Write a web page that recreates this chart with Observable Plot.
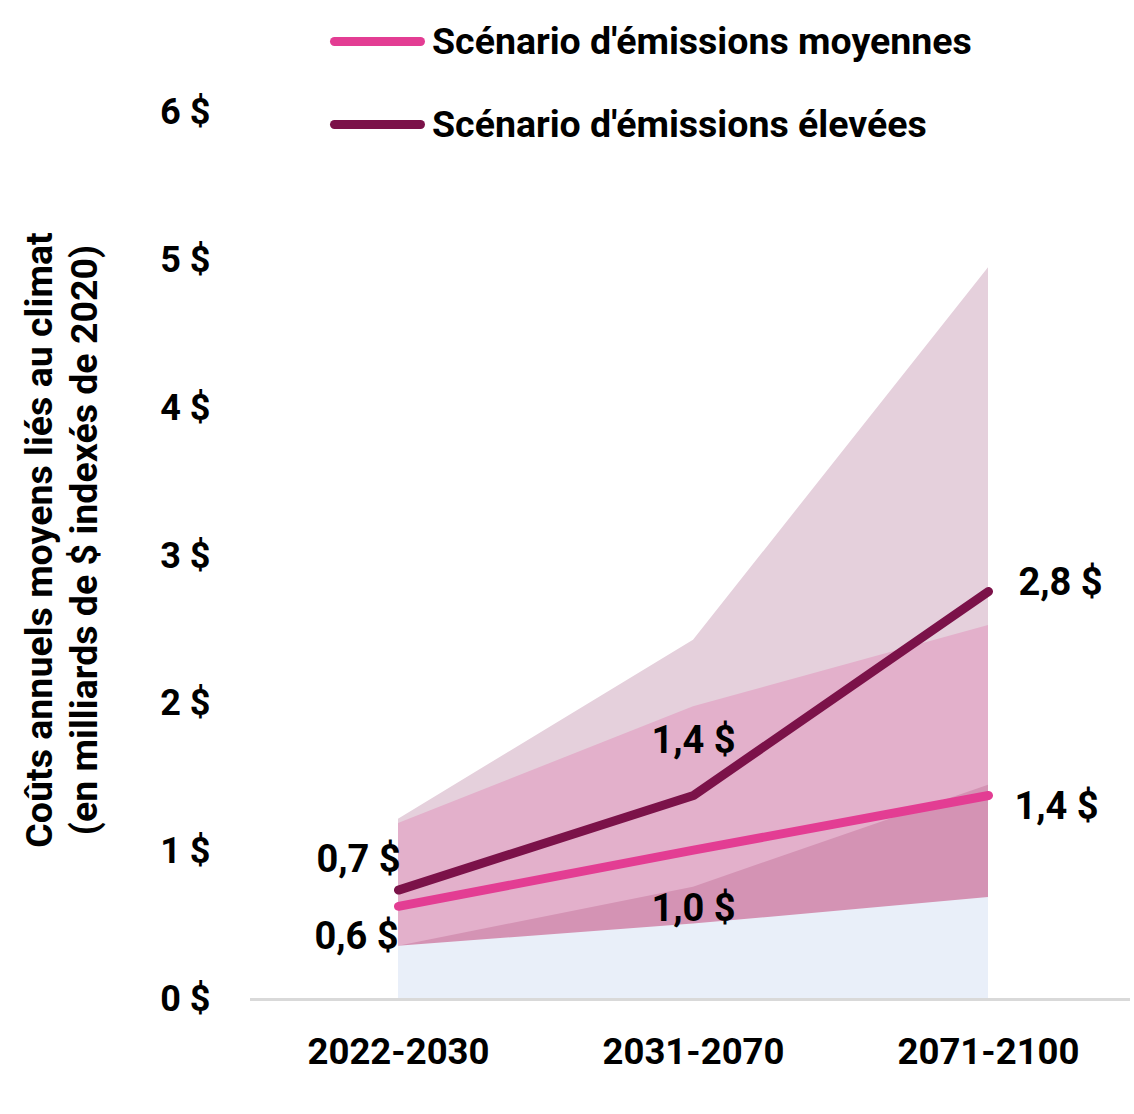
<!DOCTYPE html>
<html><head><meta charset="utf-8">
<script src="https://cdn.jsdelivr.net/npm/d3@7"></script>
<script src="https://cdn.jsdelivr.net/npm/@observablehq/plot@0.6"></script>
<style>
body{margin:0;background:#fff;}
#wrap{position:relative;width:1134px;height:1114px;overflow:hidden;}
.cond{font-family:Roboto,"Liberation Sans",sans-serif;font-weight:bold;color:#000;}
#legend{position:absolute;left:330px;top:0;}
.li{position:absolute;display:flex;align-items:center;white-space:nowrap;font-size:37.5px;}
.sw{width:95px;height:9px;border-radius:5px;margin-right:7px;flex:none;}
#ytitle{position:absolute;left:62px;top:540px;transform:translate(-50%,-50%) rotate(-90deg);text-align:center;font-size:37.5px;line-height:45px;white-space:nowrap;}
svg g[aria-label="y-axis tick label"]{font-family:Roboto,"Liberation Sans",sans-serif;font-weight:bold;font-size:36px;}
svg g[aria-label="x-axis tick label"]{font-family:Roboto,"Liberation Sans",sans-serif;font-weight:bold;font-size:36.5px;}
</style></head><body><div id="wrap"></div>
<script>
// ---- data ----
const periods = ["2022-2030", "2031-2070", "2071-2100"];
const moyennes = [0.63, 1.01, 1.38];
const elevees = [0.74, 1.38, 2.76];
const moyBas = [0.36, 0.51, 0.69];
const moyHaut = [1.19, 1.98, 2.53];
const eleBas = [0.36, 0.76, 1.45];
const eleHaut = [1.22, 2.43, 4.95];
const labelsMoy = ["0,6 $", "1,0 $", "1,4 $"];
const labelsEle = ["0,7 $", "1,4 $", "2,8 $"];
const yTicks = [0, 1, 2, 3, 4, 5, 6];
const seriesNames = ["Scénario d'émissions moyennes", "Scénario d'émissions élevées"];
const yTitle = ["Coûts annuels moyens liés au climat", "(en milliards de $ indexés de 2020)"];

// ---- layout / styling ----
const cMoy = "#e33d93", cEle = "#7b1249";
const rows = periods.map((p, i) => ({
  period: p, moy: moyennes[i], ele: elevees[i],
  moyBas: moyBas[i], moyHaut: moyHaut[i], eleBas: eleBas[i], eleHaut: eleHaut[i],
  lMoy: labelsMoy[i], lEle: labelsEle[i]
}));
const offMoy = [[-42, 30], [0, 59], [68, 11]];
const offEle = [[-40, -30], [0, -55], [72, -9]];
const labelFont = {fontSize: 38, fontWeight: "bold", fontFamily: 'Roboto,"Liberation Sans",sans-serif', fill: "#000"};
const labelMarks = [];
rows.forEach((r, i) => {
  labelMarks.push(Plot.text([r], {x: "period", y: "moy", text: "lMoy", dx: offMoy[i][0], dy: offMoy[i][1], ...labelFont}));
  labelMarks.push(Plot.text([r], {x: "period", y: "ele", text: "lEle", dx: offEle[i][0], dy: offEle[i][1], ...labelFont}));
});

const chart = Plot.plot({
  width: 1134, height: 1114,
  marginLeft: 250, marginRight: 4, marginTop: 20, marginBottom: 115,
  x: {type: "point", domain: periods, range: [397, 988], padding: 0, label: null},
  y: {domain: [0, 6], range: [999, 112], label: null},
  marks: [
    Plot.areaY(rows, {x: "period", y1: 0, y2: "eleHaut", fill: "#e5d0dc"}),
    Plot.areaY(rows, {x: "period", y1: 0, y2: "moyHaut", fill: "#e3b0cb"}),
    Plot.areaY(rows, {x: "period", y1: 0, y2: "eleBas", fill: "#d493b4"}),
    Plot.areaY(rows, {x: "period", y1: 0, y2: "moyBas", fill: "#e9eff9"}),
    Plot.ruleY([0], {stroke: "#d9d9d9", strokeWidth: 3}),
    Plot.line(rows, {x: "period", y: "moy", stroke: cMoy, strokeWidth: 9, strokeLinecap: "round", strokeLinejoin: "round"}),
    Plot.line(rows, {x: "period", y: "ele", stroke: cEle, strokeWidth: 9, strokeLinecap: "round", strokeLinejoin: "round"}),
    ...labelMarks,
    Plot.axisY({ticks: yTicks, tickFormat: d => d + " $", tickSize: 0, tickPadding: 40, label: null}),
    Plot.axisX({tickSize: 0, tickPadding: 39, label: null})
  ]
});
const wrap = document.getElementById("wrap");
wrap.appendChild(chart);

// legend
const legend = document.createElement("div");
legend.id = "legend"; legend.className = "cond";
[[cMoy, 41], [cEle, 124]].forEach(([c, y], i) => {
  const li = document.createElement("div");
  li.className = "li"; li.style.top = (y - 22) + "px"; li.style.height = "44px";
  const sw = document.createElement("div"); sw.className = "sw"; sw.style.background = c;
  const t = document.createElement("span"); t.textContent = seriesNames[i];
  li.appendChild(sw); li.appendChild(t); legend.appendChild(li);
});
wrap.appendChild(legend);

const yt = document.createElement("div");
yt.id = "ytitle"; yt.className = "cond";
yt.innerHTML = yTitle.map(s => "<div>" + s.replace(/&/g, "&amp;") + "</div>").join("");
wrap.appendChild(yt);
</script>
</body></html>
